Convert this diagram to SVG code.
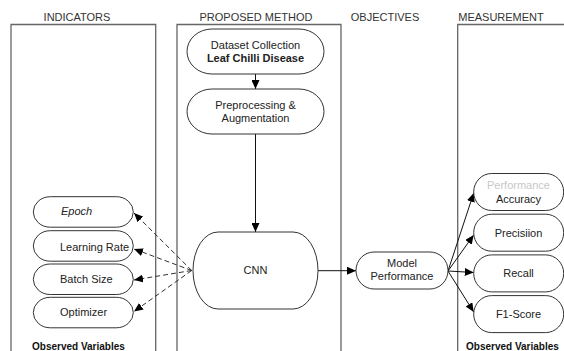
<svg xmlns="http://www.w3.org/2000/svg" width="564" height="351" viewBox="0 0 564 351">
<style>
text{font-family:"Liberation Sans",Arial,sans-serif;font-size:11px;fill:#222}
.hdr{fill:#333}
.c{text-anchor:middle}
.b{font-weight:bold}
.ov{font-weight:bold;font-size:10px;fill:#111}
.panel{fill:none;stroke:#666;stroke-width:1.3}
.node{fill:#fff;stroke:#333;stroke-width:1}
.solid{fill:none;stroke:#111;stroke-width:1}
.dash{fill:none;stroke:#333;stroke-width:1;stroke-dasharray:5 3}
</style>
<defs>
<marker id="ah" markerUnits="userSpaceOnUse" markerWidth="10" markerHeight="8" refX="9" refY="4" orient="auto">
<path d="M0,0 L9,4 L0,8 Z" fill="#000"/>
</marker>
</defs>
<rect width="564" height="351" fill="#fff"/>
<g id="panels">
<path class="panel" d="M11,360 V24.5 H155.7 V360"/>
<path class="panel" d="M177,360 V24.5 H341 V360"/>
<path class="panel" d="M457.7,360 V24.5 H570"/>
<text class="hdr c" x="77" y="21">INDICATORS</text>
<text class="hdr c" x="256" y="21">PROPOSED METHOD</text>
<text class="hdr c" x="385" y="21">OBJECTIVES</text>
<text class="hdr c" x="501" y="21">MEASUREMENT</text>
<text class="ov" x="32" y="350">Observed Variables</text>
<text class="ov" x="466" y="350">Observed Variables</text>
</g>
<g id="connectors">
<line class="solid" x1="255.5" y1="74" x2="255.5" y2="89" marker-end="url(#ah)"/>
<line class="solid" x1="255.5" y1="134" x2="255.5" y2="232" marker-end="url(#ah)"/>
<line class="solid" x1="318" y1="270.7" x2="356" y2="270.7" marker-end="url(#ah)"/>
<line class="dash" x1="191.7" y1="270.5" x2="134" y2="213" marker-end="url(#ah)"/>
<line class="dash" x1="191.7" y1="270.5" x2="134" y2="249" marker-end="url(#ah)"/>
<line class="dash" x1="191.7" y1="270.5" x2="134" y2="280" marker-end="url(#ah)"/>
<line class="dash" x1="191.7" y1="270.5" x2="134" y2="311.5" marker-end="url(#ah)"/>
<line class="solid" x1="448" y1="271" x2="473.7" y2="193" marker-end="url(#ah)"/>
<line class="solid" x1="448" y1="271" x2="473.7" y2="235" marker-end="url(#ah)"/>
<line class="solid" x1="448" y1="271" x2="473.7" y2="272.5" marker-end="url(#ah)"/>
<line class="solid" x1="448" y1="271" x2="473.7" y2="312" marker-end="url(#ah)"/>
</g>
<g id="dataset">
<rect class="node" x="187" y="29" width="137" height="45" rx="25" ry="22.5"/>
<text class="c" x="255.5" y="49">Dataset Collection</text>
<text class="c b" x="255.5" y="61.5">Leaf Chilli Disease</text>
</g>
<g id="preprocessing">
<rect class="node" x="187" y="89" width="137" height="45" rx="25" ry="22.5"/>
<text class="c" x="255.5" y="109">Preprocessing &amp;</text>
<text class="c" x="255.5" y="121.5">Augmentation</text>
</g>
<g id="cnn">
<rect class="node" x="193" y="232" width="125" height="77" rx="25" ry="38.5"/>
<text class="c" x="255.5" y="274">CNN</text>
</g>
<g id="model-performance">
<rect class="node" x="356" y="252" width="92" height="37" rx="18" ry="18.5"/>
<text class="c" x="402" y="267">Model</text>
<text class="c" x="402" y="280">Performance</text>
</g>
<g id="epoch">
<rect class="node" x="33.3" y="196.7" width="100" height="30.5" rx="17" ry="15.25"/>
<text x="61" y="215" font-style="italic">Epoch</text>
</g>
<g id="learning-rate">
<rect class="node" x="33.3" y="230.7" width="100" height="30.5" rx="17" ry="15.25"/>
<text x="60" y="250.5">Learning Rate</text>
</g>
<g id="batch-size">
<rect class="node" x="33.3" y="264" width="100" height="30.5" rx="17" ry="15.25"/>
<text x="60" y="283.3">Batch Size</text>
</g>
<g id="optimizer">
<rect class="node" x="33.3" y="297.3" width="100" height="30.5" rx="17" ry="15.25"/>
<text x="60" y="315.7">Optimizer</text>
</g>
<g id="accuracy">
<rect class="node" x="473.7" y="173.5" width="90" height="37" rx="18" ry="18.5"/>
<text class="c" x="518.5" y="189" style="fill:#c8c8c8">Performance</text>
<text class="c" x="518.5" y="203">Accuracy</text>
</g>
<g id="precision">
<rect class="node" x="473.7" y="214.2" width="90" height="37" rx="18" ry="18.5"/>
<text class="c" x="518.5" y="236.5">Precisiion</text>
</g>
<g id="recall">
<rect class="node" x="473.7" y="254.9" width="90" height="37" rx="18" ry="18.5"/>
<text class="c" x="518.5" y="277">Recall</text>
</g>
<g id="f1-score">
<rect class="node" x="473.7" y="295.6" width="90" height="37" rx="18" ry="18.5"/>
<text class="c" x="518.5" y="317.5">F1-Score</text>
</g>
</svg>
